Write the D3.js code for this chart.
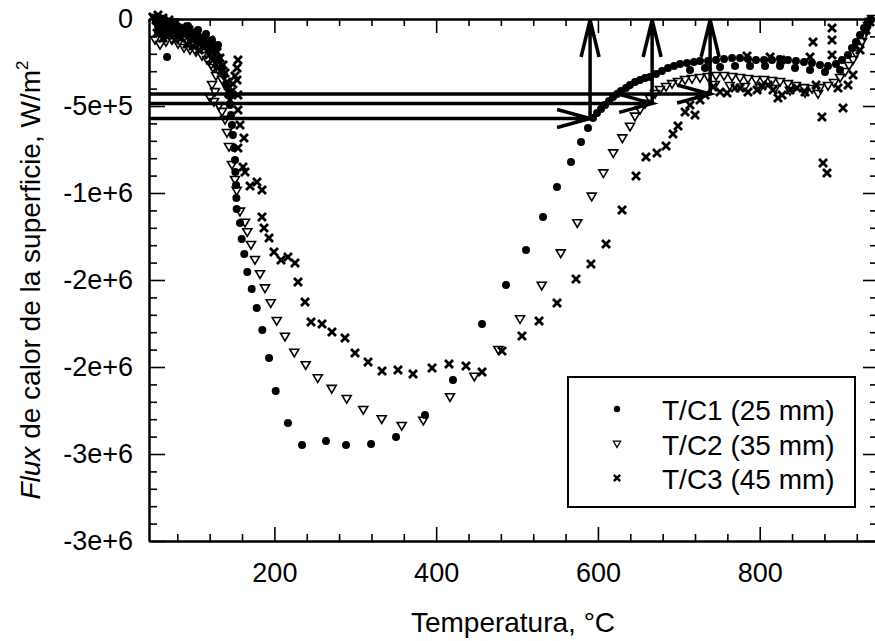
<!DOCTYPE html>
<html>
<head>
<meta charset="utf-8">
<script src="https://cdn.jsdelivr.net/npm/d3@7"></script>
<style>
body { margin: 0; background: #fff; }
svg { display: block; font-family: "Liberation Sans", Arial, sans-serif; }
</style>
</head>
<body>
<script>
// T/C1 (25 mm) - [temperatura, flux]
var tc1 = [[53.7,-17e3],[56.1,-40e3],[56.1,-75e3],[58.6,-6e3],[61.1,-63e3],[62.3,-29e3],[63.5,-98e3],[64.8,-52e3],[67.3,-218e3],[68.5,-17e3],[71.0,-75e3],[73.4,-40e3],[77.1,-63e3],[77.1,-17e3],[80.9,-46e3],[83.3,-92e3],[87.0,-63e3],[90.7,-86e3],[93.2,-40e3],[95.7,-109e3],[99.4,-92e3],[103.1,-121e3],[105.6,-63e3],[108.1,-132e3],[111.8,-121e3],[115.5,-144e3],[115.5,-86e3],[120.4,-167e3],[122.9,-121e3],[124.1,-178e3],[127.8,-207e3],[130.3,-149e3],[131.5,-236e3],[135.3,-282e3],[137.7,-322e3],[140.2,-379e3],[142.7,-437e3],[145.1,-494e3],[146.4,-552e3],[147.6,-609e3],[148.8,-667e3],[150.1,-741e3],[151.3,-810e3],[151.8,-879e3],[152.6,-954e3],[153.0,-1029e3],[153.4,-1092e3],[157.5,-1172e3],[159.6,-1264e3],[162.8,-1351e3],[166.5,-1454e3],[172.0,-1552e3],[178.2,-1661e3],[185.1,-1787e3],[193.4,-1948e3],[201.6,-2138e3],[216.8,-2322e3],[234.2,-2448e3],[263.8,-2425e3],[288.6,-2448e3],[319.5,-2442e3],[350.4,-2402e3],[386.2,-2276e3],[420.8,-2075e3],[456.7,-1753e3],[486.4,-1529e3],[511.1,-1328e3],[532.1,-1138e3],[549.4,-965e3],[566.7,-822e3],[579.1,-707e3],[587.7,-626e3],[593.9,-569e3],[598.9,-540e3],[603.8,-517e3],[608.8,-494e3],[613.7,-471e3],[618.6,-448e3],[623.6,-431e3],[628.5,-414e3],[634.7,-397e3],[639.6,-379e3],[645.8,-362e3],[652.0,-351e3],[658.2,-339e3],[664.4,-333e3],[671.8,-316e3],[679.2,-299e3],[686.6,-282e3],[694.1,-270e3],[701.5,-259e3],[710.1,-253e3],[713.8,-293e3],[718.8,-247e3],[726.2,-241e3],[732.4,-282e3],[736.1,-241e3],[746.0,-236e3],[751.0,-276e3],[755.9,-230e3],[765.8,-224e3],[769.5,-270e3],[775.6,-224e3],[785.5,-230e3],[788.0,-270e3],[795.4,-236e3],[805.3,-236e3],[806.6,-270e3],[815.2,-236e3],[825.1,-230e3],[825.1,-270e3],[834.9,-236e3],[843.6,-282e3],[844.8,-241e3],[854.7,-247e3],[862.2,-293e3],[864.6,-253e3],[874.5,-264e3],[880.7,-305e3],[884.4,-270e3],[894.3,-259e3],[899.3,-293e3],[901.7,-236e3],[909.1,-207e3],[914.1,-167e3],[919.0,-132e3],[924.0,-92e3],[928.9,-52e3],[933.9,-17e3],[937.6,-3e3]];

// T/C2 (35 mm)
var tc2 = [[51.2,6e3],[52.4,-121e3],[54.9,-11e3],[57.4,-29e3],[58.6,-149e3],[59.8,0],[63.5,-46e3],[66.0,-17e3],[66.0,-132e3],[69.7,-63e3],[72.2,-34e3],[73.4,-121e3],[75.9,-80e3],[79.6,-52e3],[80.9,-144e3],[84.6,-69e3],[88.3,-103e3],[88.3,-167e3],[93.2,-80e3],[95.7,-178e3],[96.9,-121e3],[101.9,-103e3],[103.1,-190e3],[105.6,-138e3],[110.5,-149e3],[110.5,-213e3],[114.2,-132e3],[116.7,-236e3],[119.2,-161e3],[121.7,-264e3],[122.9,-195e3],[126.6,-236e3],[124.1,-282e3],[127.8,-328e3],[130.3,-293e3],[122.9,-379e3],[135.3,-351e3],[126.6,-420e3],[120.4,-454e3],[125.4,-477e3],[131.5,-500e3],[135.3,-534e3],[139.0,-580e3],[141.4,-655e3],[143.9,-736e3],[147.6,-839e3],[151.3,-925e3],[153.4,-988e3],[157.5,-1107e3],[163.7,-1171e3],[166.5,-1226e3],[171.1,-1299e3],[176.0,-1385e3],[182.2,-1467e3],[188.4,-1548e3],[195.5,-1634e3],[202.9,-1736e3],[213.1,-1826e3],[224.6,-1918e3],[238.7,-1990e3],[253.6,-2065e3],[270.9,-2126e3],[289.4,-2184e3],[309.9,-2247e3],[332.7,-2300e3],[357.4,-2339e3],[384.1,-2309e3],[417.1,-2174e3],[447.2,-2056e3],[476.8,-1902e3],[503.7,-1726e3],[530.5,-1533e3],[554.0,-1347e3],[574.5,-1174e3],[592.3,-1021e3],[606.7,-887e3],[619.0,-772e3],[630.2,-686e3],[639.7,-619e3],[645.8,-561e3],[652.0,-523e3],[658.2,-488e3],[664.4,-460e3],[670.6,-431e3],[676.7,-408e3],[684.2,-391e3],[691.6,-374e3],[699.0,-362e3],[707.7,-351e3],[716.3,-345e3],[726.2,-339e3],[736.1,-333e3],[744.5,-379e3],[746.0,-328e3],[755.9,-328e3],[763.0,-385e3],[765.8,-333e3],[775.6,-339e3],[781.8,-391e3],[785.5,-345e3],[795.4,-351e3],[800.4,-397e3],[805.3,-351e3],[815.2,-356e3],[818.9,-402e3],[825.1,-362e3],[834.9,-374e3],[837.5,-414e3],[844.8,-385e3],[854.7,-397e3],[856.0,-425e3],[864.6,-402e3],[872.1,-431e3],[874.5,-397e3],[884.4,-385e3],[891.9,-368e3],[899.3,-339e3],[905.5,-305e3],[910.4,-270e3],[915.4,-236e3],[919.1,-201e3],[922.8,-167e3],[926.5,-132e3],[929.0,-98e3],[931.4,-69e3],[933.9,-40e3],[936.4,-17e3],[938.9,0]];

// T/C3 (45 mm)
var tc3 = [[49.9,11e3],[53.7,-6e3],[54.9,-80e3],[56.1,23e3],[59.8,-23e3],[62.3,6e3],[62.3,-109e3],[66.0,-34e3],[69.7,-6e3],[69.7,-92e3],[73.4,-52e3],[77.1,-23e3],[77.1,-121e3],[80.9,-75e3],[84.6,-109e3],[85.8,-46e3],[89.5,-92e3],[92.0,-144e3],[94.5,-63e3],[98.2,-109e3],[99.4,-155e3],[103.1,-80e3],[106.8,-121e3],[106.8,-178e3],[111.8,-103e3],[113.0,-167e3],[116.7,-138e3],[119.2,-207e3],[120.4,-121e3],[124.1,-236e3],[125.4,-161e3],[129.1,-190e3],[129.1,-282e3],[132.8,-224e3],[136.5,-264e3],[139.0,-310e3],[141.4,-362e3],[142.7,-420e3],[145.1,-466e3],[146.4,-420e3],[148.8,-374e3],[151.3,-328e3],[153.8,-282e3],[155.0,-236e3],[153.8,-351e3],[155.0,-437e3],[155.0,-523e3],[157.5,-609e3],[162.4,-684e3],[155.0,-741e3],[161.2,-851e3],[163.7,-879e3],[169.9,-960e3],[178.5,-937e3],[184.7,-983e3],[184.7,-1138e3],[187.2,-1201e3],[193.4,-1259e3],[199.5,-1339e3],[208.2,-1385e3],[216.8,-1368e3],[225.5,-1402e3],[229.2,-1511e3],[237.9,-1626e3],[245.3,-1741e3],[258.9,-1753e3],[271.2,-1799e3],[287.3,-1833e3],[299.7,-1919e3],[315.8,-1971e3],[333.1,-2023e3],[352.8,-2017e3],[371.4,-2040e3],[394.9,-2006e3],[415.9,-1983e3],[436.9,-1994e3],[456.7,-2029e3],[481.4,-1908e3],[506.1,-1822e3],[527.2,-1736e3],[549.4,-1632e3],[572.9,-1494e3],[591.4,-1408e3],[610.0,-1293e3],[629.8,-1098e3],[647.1,-902e3],[659.4,-793e3],[673.0,-770e3],[684.2,-730e3],[692.8,-661e3],[699.0,-615e3],[707.7,-534e3],[720.0,-552e3],[713.8,-494e3],[726.2,-466e3],[732.4,-437e3],[742.3,-391e3],[750.9,-420e3],[759.6,-425e3],[769.5,-397e3],[775.6,-397e3],[784.3,-213e3],[785.5,-420e3],[796.7,-408e3],[802.9,-385e3],[810.3,-379e3],[812.8,-218e3],[816.4,-408e3],[822.6,-454e3],[826.3,-236e3],[827.6,-437e3],[837.5,-408e3],[846.1,-397e3],[856.0,-420e3],[862.2,-218e3],[865.9,-132e3],[869.6,-379e3],[877.0,-563e3],[878.3,-828e3],[883.2,-885e3],[889.4,-52e3],[889.4,-121e3],[889.4,-207e3],[896.8,-397e3],[903.0,-511e3],[909.2,-379e3],[915.4,-322e3],[924.0,-178e3],[931.4,-63e3],[936.4,-17e3]];

// flechas: nivel de flux y temperatura final
var arrowFlux = [-431e3, -485e3, -572e3];
var arrowTemp = [738.7, 667.0, 590.3];

var xTicks = [200, 400, 600, 800];
var xTickLabels = ["200", "400", "600", "800"];
var yTicks = [0, -5e5, -1e6, -1.5e6, -2e6, -2.5e6, -3e6];
var yTickLabels = ["0", "-5e+5", "-1e+6", "-2e+6", "-2e+6", "-3e+6", "-3e+6"];
var seriesNames = ["T/C1 (25 mm)", "T/C2 (35 mm)", "T/C3 (45 mm)"];

var width = 875, height = 641;

var svg = d3.select("body")
    .append("svg")
    .attr("width", width)
    .attr("height", height);

var x = d3.scaleLinear().domain([45, 945]).range([149, 877]);
var y = d3.scaleLinear().domain([-3e6, 0]).range([541, 19]);

var xMinor = d3.range(80, 945, 40).filter(function (d) { return d % 200 !== 0; });
var yMinor = d3.range(-30, 1).map(function (d) { return d * 1e5; })
    .filter(function (d) { return d % 5e5 !== 0; });

function drawAxis(axis, tx, ty, labels) {
    var g = svg.append("g")
        .attr("transform", "translate(" + tx + "," + ty + ")")
        .call(axis);
    g.select(".domain").attr("stroke-width", 2);
    g.selectAll(".tick line").attr("stroke-width", 1.6);
    g.selectAll("text")
        .style("font-size", labels ? "27px" : "0px")
        .attr("fill", "#000");
    return g;
}

// minor ticks
drawAxis(d3.axisBottom(x).tickValues(xMinor).tickSizeInner(-7).tickSizeOuter(0).tickFormat(""), 0, 541, false);
drawAxis(d3.axisTop(x).tickValues(xMinor).tickSizeInner(-7).tickSizeOuter(0).tickFormat(""), 0, 19, false);
drawAxis(d3.axisLeft(y).tickValues(yMinor).tickSizeInner(-8).tickSizeOuter(0).tickFormat(""), 149, 0, false);
drawAxis(d3.axisRight(y).tickValues(yMinor).tickSizeInner(-7).tickSizeOuter(0).tickFormat(""), 877, 0, false);

// major ticks
drawAxis(d3.axisBottom(x).tickValues(xTicks).tickSizeInner(-14).tickSizeOuter(0).tickPadding(22)
    .tickFormat(function (d, i) { return xTickLabels[i]; }), 0, 541, true);
drawAxis(d3.axisTop(x).tickValues(xTicks).tickSizeInner(-14).tickSizeOuter(0).tickFormat(""), 0, 19, false);
drawAxis(d3.axisLeft(y).tickValues(yTicks).tickSizeInner(-16).tickSizeOuter(0).tickPadding(16)
    .tickFormat(function (d, i) { return yTickLabels[i]; }), 149, 0, true);
drawAxis(d3.axisRight(y).tickValues(yTicks).tickSizeInner(-14).tickSizeOuter(0).tickFormat(""), 877, 0, false);

// arrows
var arrows = svg.append("g")
    .attr("stroke", "#000")
    .attr("stroke-width", 3.5)
    .attr("fill", "none");

arrowFlux.forEach(function (f, i) {
    var xe = x(arrowTemp[i]), ye = y(f), x0 = x.range()[0], yTop = y(0);
    arrows.append("path")
        .attr("d", "M" + x0 + "," + ye + "H" + xe +
            "M" + (xe - 33) + "," + (ye - 9) + "L" + xe + "," + ye + "L" + (xe - 33) + "," + (ye + 9));
    arrows.append("path")
        .attr("d", "M" + xe + "," + ye + "V" + (yTop + 1) +
            "M" + (xe - 9) + "," + (yTop + 38) + "L" + xe + "," + (yTop + 1) + "L" + (xe + 9) + "," + (yTop + 38));
});

// markers
var triPath = "M-4.5,-3.5L4.5,-3.5L0,4.2Z";
var crossPath = "M-4,-4L4,4M-4,4L4,-4";

svg.append("g")
    .selectAll("path")
    .data(tc2)
    .enter().append("path")
    .attr("transform", function (d) { return "translate(" + x(d[0]) + "," + y(d[1]) + ")"; })
    .attr("d", triPath)
    .attr("fill", "none")
    .attr("stroke", "#000")
    .attr("stroke-width", 1.6);

svg.append("g")
    .selectAll("circle")
    .data(tc1)
    .enter().append("circle")
    .attr("cx", function (d) { return x(d[0]); })
    .attr("cy", function (d) { return y(d[1]); })
    .attr("r", 4)
    .attr("fill", "#000");

svg.append("g")
    .selectAll("path")
    .data(tc3)
    .enter().append("path")
    .attr("transform", function (d) { return "translate(" + x(d[0]) + "," + y(d[1]) + ")"; })
    .attr("d", crossPath)
    .attr("stroke", "#000")
    .attr("stroke-width", 2.8);

// legend
var legend = svg.append("g");
legend.append("rect")
    .attr("x", 568).attr("y", 377)
    .attr("width", 287).attr("height", 130)
    .attr("fill", "#fff")
    .attr("stroke", "#000")
    .attr("stroke-width", 2);

var rowY = [409, 444, 478];
legend.append("circle").attr("cx", 617).attr("cy", rowY[0]).attr("r", 3.2).attr("fill", "#000");
legend.append("path").attr("transform", "translate(617," + rowY[1] + ") scale(0.8)")
    .attr("d", triPath).attr("fill", "#fff").attr("stroke", "#000").attr("stroke-width", 1.6);
legend.append("path").attr("transform", "translate(617," + rowY[2] + ") scale(0.8)")
    .attr("d", crossPath).attr("stroke", "#000").attr("stroke-width", 3);

legend.selectAll("text.name")
    .data(seriesNames)
    .enter().append("text")
    .attr("class", "name")
    .attr("x", 662)
    .attr("y", function (d, i) { return rowY[i] + 11; })
    .style("font-size", "28px")
    .text(function (d) { return d; });

// axis titles
svg.append("text")
    .attr("x", 513)
    .attr("y", 632)
    .attr("text-anchor", "middle")
    .style("font-size", "28px")
    .text("Temperatura, °C");

var yTitle = svg.append("text")
    .attr("transform", "translate(40,280) rotate(-90)")
    .attr("text-anchor", "middle")
    .style("font-size", "28px");
yTitle.append("tspan").style("font-style", "italic").text("Flux");
yTitle.append("tspan").text(" de calor de la superficie, W/m");
yTitle.append("tspan").attr("dy", -12).style("font-size", "17px").text("2");
</script>
</body>
</html>
